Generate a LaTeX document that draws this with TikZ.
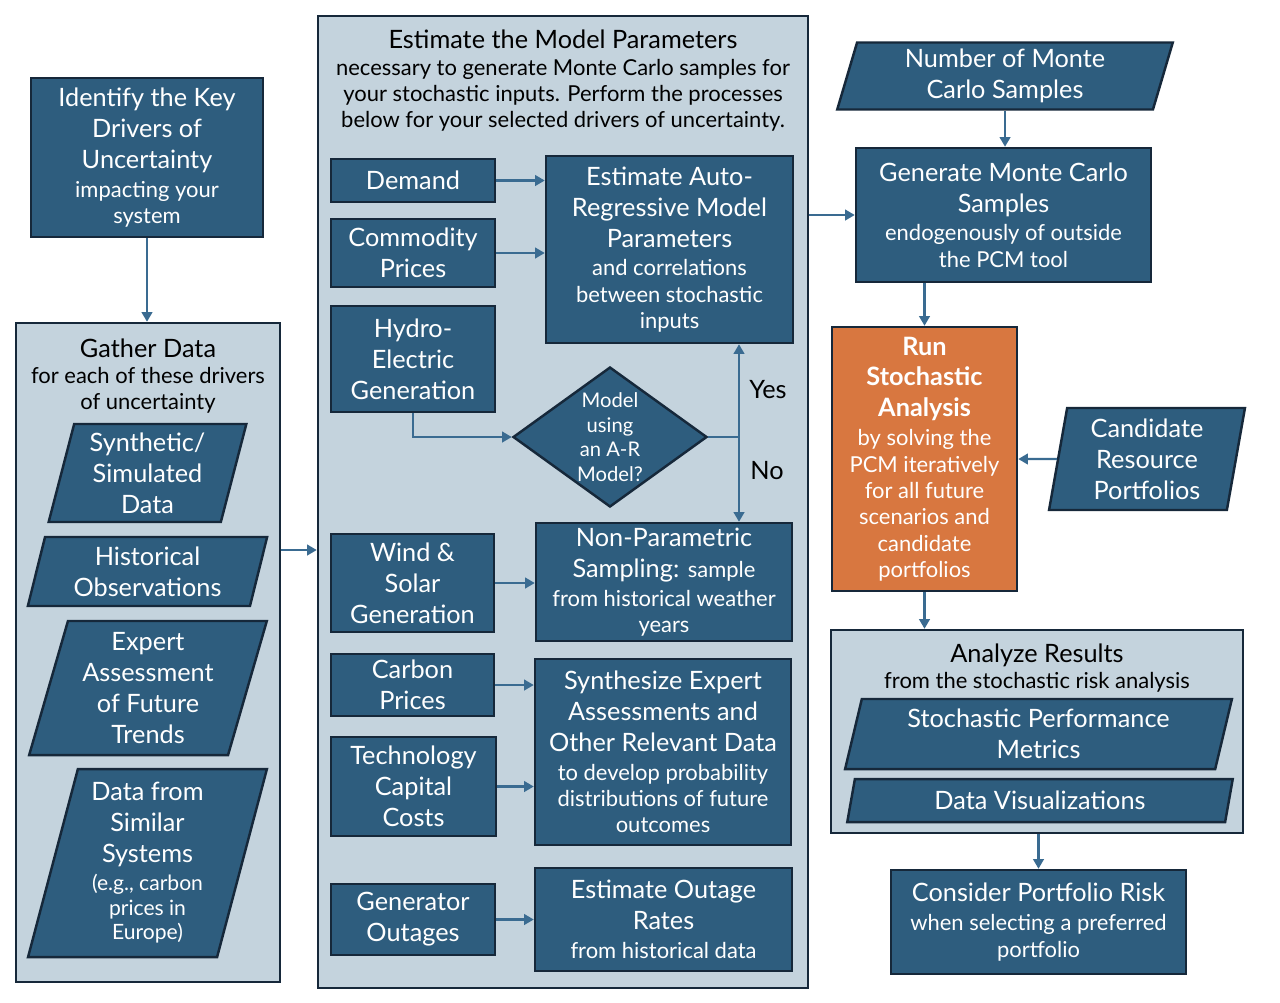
\documentclass[tikz,border=0pt]{standalone}
\usepackage{fontspec}
\setmainfont{Lato}
\usetikzlibrary{shapes.geometric,arrows.meta,positioning,calc}
\definecolor{boxblue}{RGB}{46,93,126}
\definecolor{boxline}{RGB}{22,40,58}
\definecolor{panelgray}{RGB}{196,211,221}
\definecolor{runorange}{RGB}{216,119,64}
\definecolor{arrowblue}{RGB}{58,107,145}
\newcommand{\headtxt}{\fontsize{14.4}{17.6}\selectfont}
\newcommand{\subtxt}{\fontsize{12.5}{15}\selectfont}
\newcommand{\smalltxt}{\fontsize{12}{14}\selectfont}
\newcommand{\tinytxt}{\fontsize{11.5}{14}\selectfont}
% line breaks for the smaller second part of a box
\newcommand{\tosub}{\\[-1.2pt]}
\newcommand{\insub}{\\[-2.6pt]}

\begin{document}
\begin{tikzpicture}[x=0.02cm, y=-0.02cm,
    sz/.style 2 args={minimum width=#1*0.02cm, minimum height=#2*0.02cm},
    panel/.style={rectangle, draw=boxline, line width=1.4pt, fill=panelgray, inner sep=0pt},
    paneltitle/.style={align=center, inner sep=0pt, text=black, font=\subtxt},
    block/.style={rectangle, draw=boxline, line width=1.4pt, fill=boxblue, text=white, align=center, inner sep=0pt, font=\headtxt},
    databox/.style={trapezium, trapezium left angle=#1, trapezium right angle=180-#1, trapezium stretches=true,
        draw=boxline, line width=1.4pt, fill=boxblue, text=white, align=center, inner sep=0pt, font=\headtxt},
    databox/.default=76,
    decision/.style={diamond, draw=boxline, line width=1.4pt, fill=boxblue, text=white, align=center, inner sep=-6pt, font=\tinytxt},
    arrow/.style={-{Triangle[length=5.5pt,width=6pt]}, line width=1.3pt, draw=arrowblue},
    line/.style={line width=1.3pt, draw=arrowblue}
]
\useasboundingbox (0,0) rectangle (1280,1002);

% panels
\node[panel, sz={264}{659}] (gather) at (148,652.5) {};
\node[panel, sz={490}{972}] (est) at (563,502) {};
\node[panel, sz={412}{203}] (ana) at (1037,731.5) {};

\node[paneltitle] (gathert) at (148,376) {{\headtxt Gather Data}\\for each of these drivers\\of uncertainty};
\node[paneltitle] (estt) at (563,81) {{\headtxt Estimate the Model Parameters}\\necessary to generate Monte Carlo samples for\\your stochastic inputs. Perform the processes\\below for your selected drivers of uncertainty.};
\node[paneltitle] (anat) at (1037,668) {{\headtxt Analyze Results}\\from the stochastic risk analysis};

% left column
\node[block, sz={232}{159}] (ident) at (147,157.5) {Identify the Key\\Drivers of\\Uncertainty\tosub{\subtxt impacting your}\insub{\subtxt system}};
\node[databox, sz={199}{98}] (synth) at (147.5,473) {Synthetic/\\Simulated\\Data};
\node[databox, sz={241}{69}] (hist) at (147.5,571.5) {Historical\\Observations};
\node[databox=74, sz={238}{134}] (expert) at (148,688) {Expert\\Assessment\\of Future\\Trends};
\node[databox, sz={239}{188}] (similar) at (147.5,863) {Data from\\Similar\\Systems\\[-1.7pt]{\smalltxt (e.g., carbon}\\[-3.6pt]{\smalltxt prices in}\\[-3.6pt]{\smalltxt Europe)}};

% middle column: drivers
\node[block, sz={164}{43}] (demand) at (413,180.5) {Demand};
\node[block, sz={164}{68}] (comm) at (413,253) {Commodity\\Prices};
\node[block, sz={164}{106}] (hydro) at (413,359) {Hydro-\\Electric\\Generation};
\node[block, sz={163}{98}] (wind) at (412.5,583) {Wind \&\\Solar\\Generation};
\node[block, sz={163}{62}] (carbon) at (412.5,685) {Carbon\\Prices};
\node[block, sz={165}{99}] (tech) at (413.5,786.5) {Technology\\Capital\\Costs};
\node[block, sz={164}{71}] (genout) at (413,919.5) {Generator\\Outages};

% middle column: processes
\node[block, sz={247}{187}] (autoreg) at (669.5,249.5) {Estimate Auto-\\Regressive Model\\Parameters\tosub{\subtxt and correlations}\insub{\subtxt between stochastic}\insub{\subtxt inputs}};
\node[decision, sz={194}{140}] (model) at (610,437) {Model\\using\\an A-R\\Model?};
\node[block, sz={256}{118}] (nonpar) at (664,582) {Non-Parametric\\Sampling: {\subtxt sample}\tosub{\subtxt from historical weather}\insub{\subtxt years}};
\node[block, sz={256}{186}] (synexp) at (663,752) {Synthesize Expert\\Assessments and\\Other Relevant Data\tosub{\subtxt to develop probability}\insub{\subtxt distributions of future}\insub{\subtxt outcomes}};
\node[block, sz={257}{103}] (outage) at (663.5,919.5) {Estimate Outage\\Rates\tosub{\subtxt from historical data}};
\coordinate (split) at (739,437);
\node[font=\headtxt] (yes) at (768,390) {Yes};
\node[font=\headtxt] (no) at (767,471) {No};

% right column
\node[databox, sz={336}{67}] (number) at (1005,76) {Number of Monte\\Carlo Samples};
\node[block, sz={295}{134}] (gen) at (1003.5,215) {Generate Monte Carlo\\Samples\tosub{\subtxt endogenously of outside}\insub{\subtxt the PCM tool}};
\node[block, fill=runorange, sz={185}{264}] (run) at (924.5,459) {\bfseries Run\\\bfseries Stochastic\\\bfseries Analysis\tosub{\subtxt by solving the}\insub{\subtxt PCM iteratively}\insub{\subtxt for all future}\insub{\subtxt scenarios and}\insub{\subtxt candidate}\insub{\subtxt portfolios}};
\node[databox=81, sz={196}{102}] (cand) at (1147,459) {Candidate\\Resource\\Portfolios};
\node[databox, sz={387}{70}] (metrics) at (1038.5,734) {Stochastic Performance\\Metrics};
\node[databox=77, sz={386}{43}] (viz) at (1040,800.5) {Data Visualizations};
\node[block, sz={295}{104}] (risk) at (1038.5,922) {Consider Portfolio Risk\tosub{\subtxt when selecting a preferred}\insub{\subtxt portfolio}};

% connectors
\draw[arrow] (ident.south) -- (ident.south |- gather.north);
\draw[arrow] (gather.east |- 0,550) -- (est.west |- 0,550);
\draw[arrow] (est.east |- gen) -- (gen.west);
\draw[arrow] (demand.east) -- (demand.east -| autoreg.west);
\draw[arrow] (comm.east) -- (comm.east -| autoreg.west);
\draw[arrow] (hydro.south) |- (model.west);
\draw[line] (model.east) -- (split);
\draw[arrow] (split) -- (split |- autoreg.south);
\draw[arrow] (split) -- (split |- nonpar.north);
\draw[arrow] (wind.east) -- (wind.east -| nonpar.west);
\draw[arrow] (carbon.east) -- (carbon.east -| synexp.west);
\draw[arrow] (tech.east) -- (tech.east -| synexp.west);
\draw[arrow] (genout.east) -- (genout.east -| outage.west);
\draw[arrow] (number.south) -- (number.south |- gen.north);
\draw[arrow] (run.north |- gen.south) -- (run.north);
\draw[arrow] (cand.west) -- (run.east);
\draw[arrow] (run.south) -- (run.south |- ana.north);
\draw[arrow] (ana.south -| risk.north) -- (risk.north);
\end{tikzpicture}
\end{document}
